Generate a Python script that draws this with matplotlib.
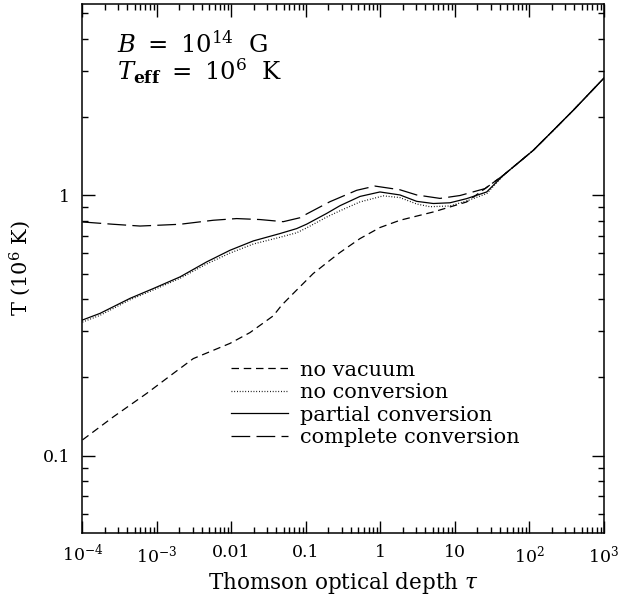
import numpy as np
import matplotlib
matplotlib.use("Agg")
import matplotlib.pyplot as plt
from matplotlib.ticker import LogLocator, NullFormatter

plt.rcParams["font.family"] = ["DejaVu Serif"]
plt.rcParams["mathtext.fontset"] = "dejavuserif"

# Temperature profiles T(tau) in units of 10^6 K, tau = Thomson optical depth
log_tau_novac = [-4.0, -3.586, -3.138, -2.781, -2.513, -2.244, -2.02, -1.752, -1.439,
                 -1.326, -1.17, -0.902, -0.678, -0.544, -0.275, -0.007, 0.262, 0.709,
                 1.157, 1.648, 2.051, 2.32, 2.588, 3.0]
T_novac = [0.115, 0.141, 0.1735, 0.207, 0.236, 0.254, 0.270, 0.297, 0.3445,
           0.3785, 0.420, 0.501, 0.563, 0.603, 0.682, 0.752, 0.802, 0.863,
           0.943, 1.193, 1.488, 1.776, 2.12, 2.82]

log_tau_noconv = [-4.0, -3.765, -3.362, -3.049, -2.691, -2.333, -2.02, -1.707, -1.349,
                  -1.125, -0.99, -0.722, -0.544, -0.275, 0.038, 0.262, 0.486, 0.664,
                  0.933, 1.157, 1.426, 1.648, 2.051, 2.32, 2.588, 3.0]
T_noconv = [0.326, 0.346, 0.397, 0.433, 0.480, 0.545, 0.600, 0.650, 0.690,
            0.718, 0.750, 0.825, 0.872, 0.943, 0.995, 0.980, 0.926, 0.904,
            0.910, 0.951, 1.015, 1.193, 1.488, 1.776, 2.12, 2.82]

log_tau_partial = [-4.0, -3.765, -3.362, -3.049, -2.691, -2.333, -2.02, -1.707, -1.349,
                   -1.125, -0.99, -0.722, -0.544, -0.275, -0.007, 0.262, 0.486, 0.709,
                   0.933, 1.157, 1.426, 1.648, 2.051, 2.32, 2.588, 3.0]
T_partial = [0.332, 0.352, 0.402, 0.4385, 0.486, 0.555, 0.615, 0.668, 0.713,
             0.745, 0.775, 0.852, 0.912, 0.990, 1.030, 1.003, 0.948, 0.930,
             0.936, 0.971, 1.030, 1.193, 1.488, 1.776, 2.12, 2.82]

log_tau_complete = [-4.0, -3.586, -3.228, -2.691, -2.244, -1.93, -1.617, -1.305, -1.081,
                    -0.99, -0.678, -0.32, -0.074, 0.262, 0.486, 0.799, 1.067, 1.403,
                    1.648, 2.051, 2.32, 2.588, 3.0]
T_complete = [0.790, 0.774, 0.762, 0.774, 0.802, 0.814, 0.807, 0.792, 0.820,
              0.848, 0.945, 1.045, 1.085, 1.050, 1.003, 0.973, 0.998, 1.061,
              1.193, 1.488, 1.776, 2.12, 2.82]

series_labels = ["no vacuum", "no conversion", "partial conversion", "complete conversion"]

x_tick_vals = [1e-4, 1e-3, 1e-2, 1e-1, 1, 10, 1e2, 1e3]
x_tick_labels = [r"$10^{-4}$", r"$10^{-3}$", "0.01", "0.1", "1", "10",
                 r"$10^{2}$", r"$10^{3}$"]
y_tick_vals = [0.1, 1]
y_tick_labels = ["0.1", "1"]

fig = plt.figure(figsize=(6.22, 5.97), dpi=100)
ax = fig.add_axes([0.1326, 0.1072, 0.8384, 0.8869])

lw = 0.9
ax.plot(10 ** np.array(log_tau_novac), T_novac, color="black", lw=lw,
        dashes=(6.0, 3.8), label=series_labels[0])
ax.plot(10 ** np.array(log_tau_noconv), T_noconv, color="black", lw=lw,
        dashes=(0.7, 1.5), label=series_labels[1])
ax.plot(10 ** np.array(log_tau_partial), T_partial, color="black", lw=lw,
        label=series_labels[2])
ax.plot(10 ** np.array(log_tau_complete), T_complete, color="black", lw=lw,
        dashes=(15.0, 5.0), label=series_labels[3])

ax.set_xscale("log")
ax.set_yscale("log")
ax.set_xlim(1e-4, 1e3)
ax.set_ylim(0.0505, 5.45)

ax.set_xticks(x_tick_vals, labels=x_tick_labels)
ax.set_yticks(y_tick_vals, labels=y_tick_labels)
ax.xaxis.set_minor_locator(LogLocator(base=10, subs=np.arange(2, 10), numticks=20))
ax.yaxis.set_minor_locator(LogLocator(base=10, subs=np.arange(2, 10), numticks=20))
ax.xaxis.set_minor_formatter(NullFormatter())
ax.yaxis.set_minor_formatter(NullFormatter())

ax.tick_params(which="both", direction="in", top=True, right=True, width=1.0,
               labelsize=12.5)
ax.tick_params(which="major", length=9)
ax.tick_params(which="minor", length=4.5)
ax.tick_params(axis="x", pad=8)
ax.tick_params(axis="y", pad=9)
for s in ax.spines.values():
    s.set_linewidth(1.1)

ax.set_xlabel(r"Thomson optical depth $\tau$", fontsize=15.5, labelpad=3)
ax.set_ylabel(r"T (10$^{6}$ K)", fontsize=15, labelpad=7)

ax.text(0.066, 0.908, r"$B\ =\ 10^{14}\ \ \mathrm{G}$", transform=ax.transAxes,
        fontsize=17.5, va="baseline", ha="left")
ax.text(0.066, 0.855, r"$T_{\mathbf{eff}}\ =\ 10^{6}\ \ \mathrm{K}$", transform=ax.transAxes,
        fontsize=17.5, va="baseline", ha="left")

leg = ax.legend(loc="center left", bbox_to_anchor=(0.285, 0.2436), frameon=False,
                fontsize=15, handlelength=2.75, handletextpad=0.55, labelspacing=0.17,
                borderpad=0, borderaxespad=0)

fig.savefig("out.png", dpi=100)
